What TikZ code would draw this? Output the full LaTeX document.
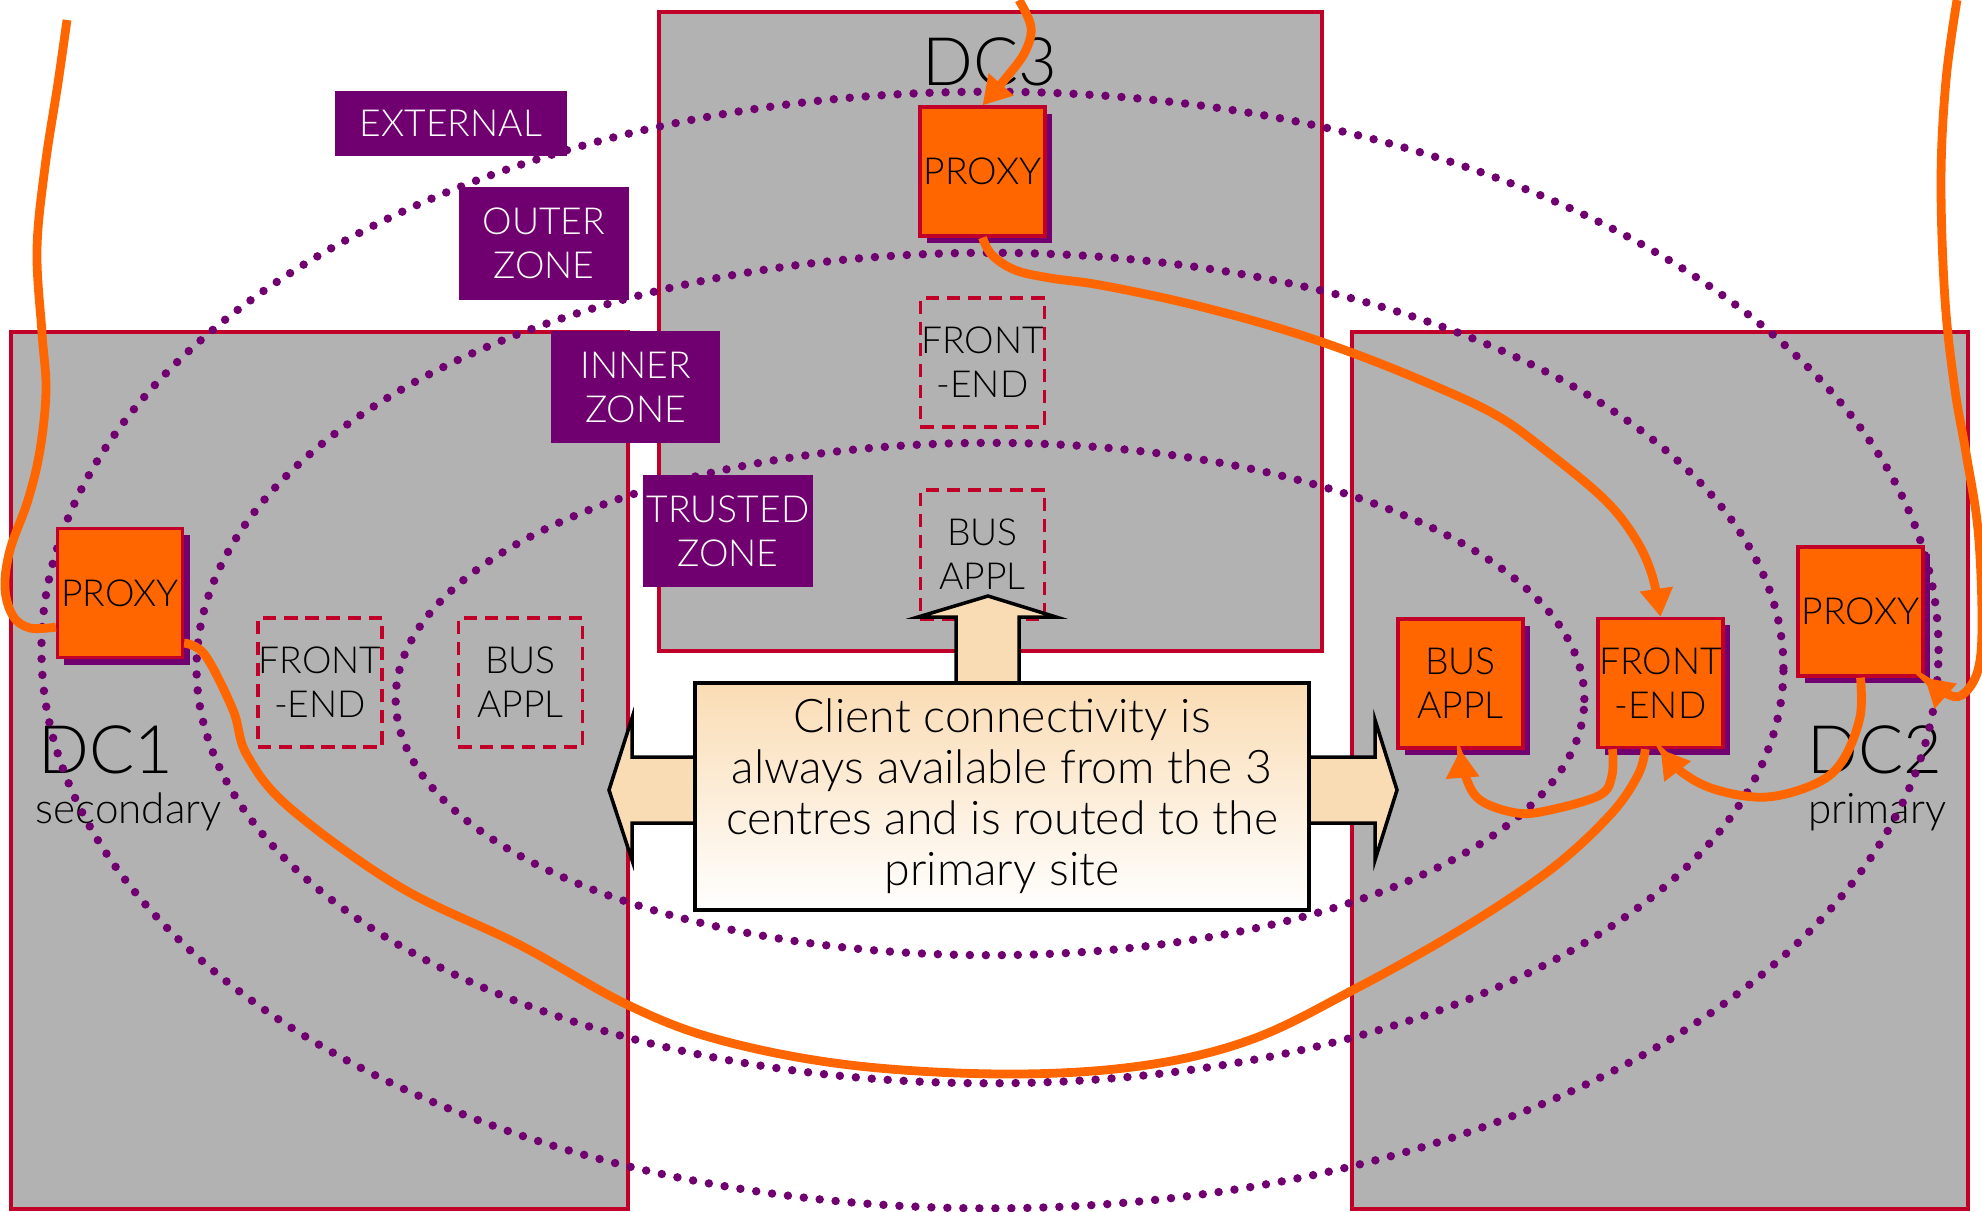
\documentclass[tikz,border=0pt]{standalone}
\usepackage{fontspec}
\IfFontExistsTF{Lato Light}{\setmainfont{Lato Light}}{\setmainfont{Lato}}
\usetikzlibrary{arrows.meta,shadows,calc}
\definecolor{dcgray}{RGB}{178,178,178}
\definecolor{dcred}{RGB}{192,0,40}
\definecolor{zpurple}{RGB}{112,0,112}
\definecolor{orng}{RGB}{255,102,0}
\definecolor{peach}{RGB}{250,220,180}
\newcommand\lblfont{\fontsize{10.6}{12.5}\selectfont}
\newcommand\dcfont{\fontsize{19}{22}\selectfont}
\newcommand\subfont{\fontsize{12}{14}\selectfont}
\newcommand\msgfont{\fontsize{13.2}{14.5}\selectfont}
\tikzset{
 dcbox/.style={fill=dcgray, draw=dcred, line width=0.9pt},
 zone/.style={draw=zpurple, line width=2.4pt, line cap=round, dash pattern=on 0pt off 4.55pt},
 zonelabel/.style={fill=zpurple, text=white, inner sep=0pt, align=center, font=\lblfont},
 obox/.style={fill=orng, draw=dcred, line width=0.9pt, inner sep=0pt, align=center, font=\lblfont,
   minimum width=1.25cm, minimum height=1.29cm,
   general shadow={fill=zpurple, shadow xshift=0.07cm, shadow yshift=-0.07cm}},
 dbox/.style={draw=dcred, line width=0.9pt, dash pattern=on 3.8pt off 2.2pt, inner sep=0pt,
   align=center, font=\lblfont, minimum width=1.24cm, minimum height=1.29cm},
 wire/.style={draw=orng, line width=2.5pt},
 tipped/.style={-{Triangle[length=8pt,width=9pt]}},
 fat/.style={fill=peach, draw=black, line width=1pt, line join=miter},
 dclabel/.style={inner sep=0pt, font=\dcfont},
 sublabel/.style={inner sep=0pt, font=\subfont},
}
\begin{document}
\begin{tikzpicture}[x=0.01cm,y=-0.01cm]
\useasboundingbox (0,0) rectangle (1982,1211);
% data centres
\draw[dcbox] (11,332) rectangle (628,1209);
\draw[dcbox] (659,12) rectangle (1322,651);
\draw[dcbox] (1352,332) rectangle (1968,1209);
% DC labels
\node[dclabel, anchor=base] (dc3) at (990,85) {DC3};
\node[dclabel, anchor=base west] (dc1) at (38,773) {DC1};
\node[sublabel, anchor=base west] (dc1s) at (35,823) {secondary};
\node[dclabel, anchor=base east] (dc2) at (1943,773) {DC2};
\node[sublabel, anchor=base east] (dc2s) at (1947,823) {primary};
% zones
\draw[zone] (990,650) ellipse [x radius=9.48cm, y radius=5.58cm];
\draw[zone] (990,668) ellipse [x radius=7.93cm, y radius=4.15cm];
\draw[zone] (990,699) ellipse [x radius=5.94cm, y radius=2.56cm];
% dashed (inactive) components
\node[dbox] (fe3) at (982.5,362.5) {FRONT\\-END};
\node[dbox] (ba3) at (982.5,554.5) {BUS\\APPL};
\node[dbox] (fe1) at (320,682.5) {FRONT\\-END};
\node[dbox] (ba1) at (520.5,682.5) {BUS\\APPL};
% zone labels
\node[zonelabel, minimum width=2.32cm, minimum height=0.65cm] (zext) at (451,123.5) {EXTERNAL};
\node[zonelabel, minimum width=1.70cm, minimum height=1.13cm] (zout) at (544,243.5) {OUTER\\ZONE};
\node[zonelabel, minimum width=1.69cm, minimum height=1.12cm] (zinn) at (635.5,387) {INNER\\ZONE};
\node[zonelabel, minimum width=1.70cm, minimum height=1.12cm] (ztru) at (728,531) {TRUSTED\\ZONE};
% block arrows and message
\draw[fat] (956,700) -- (956,617) -- (918,617) -- (988,596) -- (1056,617) -- (1019,617) -- (1019,700) -- cycle;
\draw[fat] (710,757) -- (632,757) -- (632,718) -- (609,790) -- (632,860) -- (632,823) -- (710,823) -- cycle;
\draw[fat] (1290,757) -- (1375,757) -- (1375,720) -- (1397,790) -- (1375,860) -- (1375,823) -- (1290,823) -- cycle;
\node[draw=black, line width=1pt, top color=peach, bottom color=white, minimum width=6.14cm,
      minimum height=2.27cm, inner sep=0pt, align=center, font=\msgfont] (msg) at (1002,796.5)
      {Client connectivity is\\always available from the 3\\centres and is routed to the\\primary site};
% active components
\node[obox] (px3) at (982.5,171.5) {PROXY};
\node[obox] (px1) at (120,593) {PROXY};
\node[obox] (ba2) at (1460.5,683.5) {BUS\\APPL};
\node[obox] (fe2) at (1660.5,683) {FRONT\\-END};
\node[obox] (px2) at (1860.5,611.5) {PROXY};
% free ends
\coordinate (inA) at (67,20);
\coordinate (inC) at (1019,0);
\coordinate (inG) at (1957,0);
% connections
\draw[wire] plot[smooth, tension=0.6] coordinates {(inA) (58,83) (45,167) (37,250) (42,333) (46,390) (40,450) (28,500) (10,550) (5,588) (13,616) (30,628) (px1.208)};
\draw[wire] plot[smooth, tension=0.6] coordinates {(px1.-38) (205,655) (233,710) (247,755) (290,808) (400,887) (520,945) (628,1005) (720,1040) (850,1065) (1005,1074) (1140,1066) (1250,1040) (1353,990) (1460,930) (1550,870) (1610,815) (1638,775) (fe2.257)};
\draw[wire, tipped] plot[smooth, tension=0.6] coordinates {(inC) (1031,27) (1025,52) (1006,78) (px3.north)};
\draw[wire, tipped] plot[smooth, tension=0.6] coordinates {(px3.south) (992,255) (1015,270) (1050,278) (1100,285) (1186,303) (1275,327) (1350,352) (1430,384) (1496,415) (1545,450) (1604,499) (1635,538) (1652,575) (fe2.north)};
\draw[wire, tipped] plot[smooth, tension=0.6] coordinates {(fe2.234) (1612,775) (1600,795) (1550,810) (1517,813) (1480,800) (1465,775) (ba2.south)};
\draw[wire, tipped] plot[smooth, tension=0.6] coordinates {(px2.south) (1860,717) (1843,760) (1817,783) (1767,797) (1717,790) (1683,773) (fe2.south)};
\draw[wire, tipped] plot[smooth, tension=0.6] coordinates {(inG) (1946,80) (1941,180) (1945,300) (1955,390) (1966,453) (1978,530) (1982,620) (1978,670) (1962,695) (1945,693) (px2.south east)};
\end{tikzpicture}
\end{document}
